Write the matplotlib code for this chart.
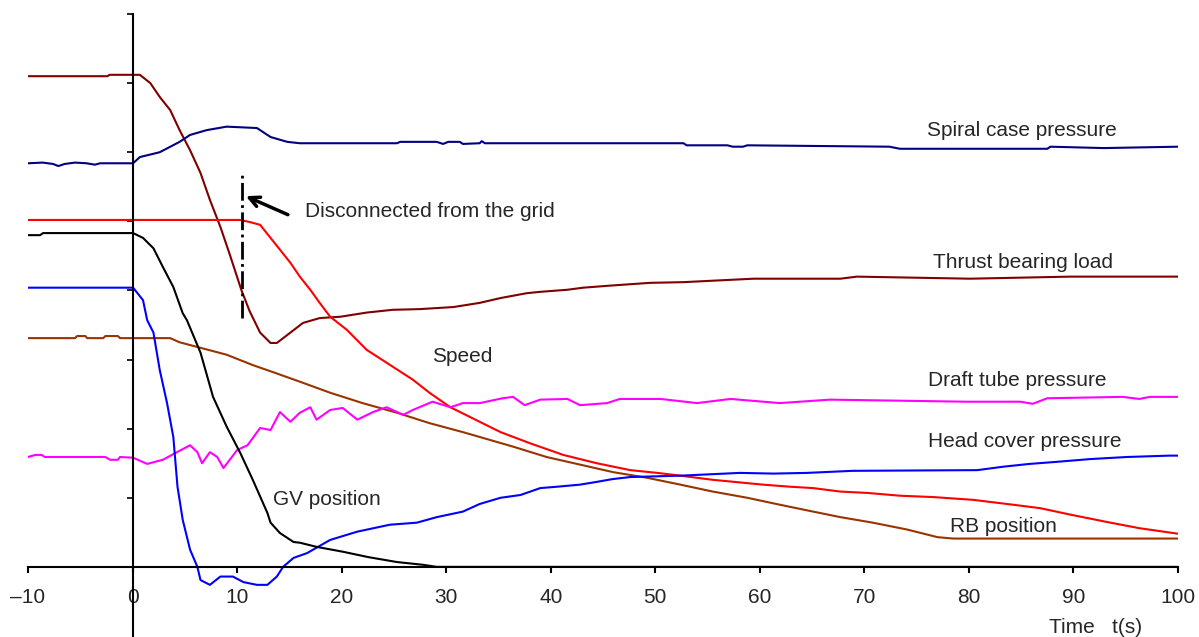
import matplotlib
matplotlib.use("Agg")
import matplotlib.pyplot as plt

plt.rcParams['font.family'] = ['Liberation Sans', 'DejaVu Sans']

# time axis ticks
x_ticks = [-10, 0, 10, 20, 30, 40, 50, 60, 70, 80, 90, 100]
x_tick_labels = ['\u201310', '0', '10', '20', '30', '40', '50', '60', '70', '80', '90', '100']

# Thrust bearing load
tb_t = [-10, -2.4, -2.2, 0.7, 1.7, 2.6, 3.6, 4.5, 5.5, 6.5, 7.4, 8.4, 9.3, 10.4, 11.2, 12.2,
        13.2, 13.8, 15.1, 16.3, 17.9, 19.9, 22.4, 24.9, 27.5, 30.7, 33.2, 35.2, 37.7, 39.0,
        41.6, 43.1, 45.7, 49.5, 52.7, 59.4, 67.7, 69.3, 80.1, 89.7, 100]
tb_v = [7.10, 7.10, 7.12, 7.12, 7.00, 6.80, 6.61, 6.32, 6.03, 5.70, 5.31, 4.92, 4.52, 4.01, 3.70, 3.39,
        3.24, 3.24, 3.39, 3.53, 3.60, 3.62, 3.68, 3.72, 3.73, 3.76, 3.82, 3.89, 3.96, 3.98,
        4.01, 4.04, 4.07, 4.11, 4.12, 4.17, 4.17, 4.20, 4.17, 4.20, 4.20]

# Spiral case pressure
sc_t = [-10, -8.6, -7.6, -7.1, -6.5, -5.5, -4.4, -3.6, -3.1, -0.2, 0.05, 0.7, 2.6, 4.5, 5.5, 7.1,
        9.0, 11.9, 13.2, 14.8, 16.0, 25.3, 25.6, 29.1, 29.7, 30.2, 31.3, 31.6, 33.2, 33.4, 33.7,
        52.7, 53.0, 56.9, 57.4, 58.4, 58.8, 72.4, 73.4, 87.5, 87.8, 92.9, 100]
sc_v = [5.84, 5.85, 5.83, 5.80, 5.83, 5.85, 5.84, 5.82, 5.84, 5.84, 5.84, 5.93, 6.00, 6.15, 6.25, 6.32,
        6.37, 6.35, 6.22, 6.15, 6.13, 6.13, 6.15, 6.15, 6.12, 6.15, 6.15, 6.12, 6.13, 6.16, 6.13,
        6.13, 6.10, 6.10, 6.08, 6.08, 6.10, 6.08, 6.05, 6.05, 6.08, 6.06, 6.08]

# Speed
sp_t = [-10, 10.3, 11.2, 12.2, 13.2, 14.1, 15.1, 16.0, 17.0, 17.9, 18.9, 20.5, 22.4, 26.8, 28.4,
        30.4, 33.2, 35.2, 38.0, 41.2, 44.4, 47.6, 50.2, 52.4, 55.5, 60.3, 62.9, 65.1, 67.7, 70.3,
        73.4, 76.6, 80.4, 84.2, 86.8, 89.9, 93.2, 96.3, 100]
sp_v = [5.02, 5.02, 4.99, 4.95, 4.76, 4.59, 4.40, 4.20, 4.01, 3.82, 3.62, 3.43, 3.14, 2.71, 2.52,
        2.31, 2.10, 1.95, 1.79, 1.62, 1.50, 1.40, 1.36, 1.32, 1.26, 1.19, 1.16, 1.14, 1.09, 1.07,
        1.03, 1.01, 0.97, 0.90, 0.85, 0.75, 0.65, 0.56, 0.48]

# GV position
gv_t = [-10, -8.85, -8.56, 0.05, 1.0, 2.0, 2.9, 3.9, 4.8, 5.2, 6.5, 7.7, 9.0, 10.3, 11.5, 12.9,
        13.2, 14.1, 15.4, 16.0, 17.6, 20.1, 22.6, 25.3, 27.8, 29.1, 100]
gv_v = [4.80, 4.80, 4.83, 4.83, 4.76, 4.61, 4.34, 4.05, 3.67, 3.57, 3.10, 2.46, 2.03, 1.65, 1.26, 0.78,
        0.64, 0.49, 0.36, 0.35, 0.29, 0.22, 0.14, 0.07, 0.03, 0.0, 0.0]

# Head cover pressure
hc_t = [-10, 0.05, 1.0, 1.4, 2.0, 2.6, 3.3, 3.9, 4.3, 4.8, 5.5, 6.2, 6.5, 7.4, 8.4, 9.6, 10.6,
        11.9, 12.9, 13.8, 14.4, 15.4, 16.7, 18.9, 21.5, 24.6, 27.2, 29.1, 31.6, 33.2, 35.2, 37.1,
        39.0, 40.6, 42.8, 44.4, 45.9, 47.6, 52.4, 58.1, 61.3, 64.5, 68.9, 80.8, 83.3, 85.8, 88.4,
        91.6, 95.1, 99.2, 100]
hc_v = [4.04, 4.04, 3.86, 3.57, 3.39, 2.85, 2.37, 1.88, 1.16, 0.68, 0.25, 0.0, -0.19, -0.26, -0.14,
        -0.14, -0.22, -0.26, -0.26, -0.14, 0.0, 0.13, 0.20, 0.39, 0.51, 0.61, 0.64, 0.72, 0.80, 0.91,
        1.00, 1.04, 1.14, 1.16, 1.19, 1.23, 1.27, 1.30, 1.32, 1.36, 1.35, 1.36, 1.39, 1.40, 1.45,
        1.49, 1.52, 1.56, 1.59, 1.61, 1.61]

# RB position
rb_t = [-10, -5.5, -5.3, -4.5, -4.35, -2.8, -2.6, -1.4, -1.2, 3.6, 4.5, 6.5, 9.0, 11.5, 13.4, 16.0,
        18.9, 22.0, 25.3, 28.4, 31.6, 33.2, 36.4, 39.6, 42.8, 46.0, 49.2, 52.4, 55.5, 58.8, 61.9,
        65.1, 67.7, 70.8, 74.1, 77.0, 78.5, 100]
rb_v = [3.31, 3.31, 3.34, 3.34, 3.31, 3.31, 3.34, 3.34, 3.31, 3.31, 3.25, 3.17, 3.07, 2.92, 2.82,
        2.68, 2.52, 2.37, 2.23, 2.08, 1.95, 1.88, 1.74, 1.59, 1.48, 1.37, 1.29, 1.19, 1.09, 1.00,
        0.90, 0.80, 0.72, 0.64, 0.54, 0.43, 0.41, 0.41]

# Draft tube pressure
dt_t = [-10, -9.3, -8.7, -8.4, -2.6, -2.15, -1.4, -1.2, 0.05, 1.4, 2.9, 4.5, 5.5, 6.2, 6.65, 7.4,
        8.1, 8.7, 9.3, 10.0, 11.0, 12.2, 13.2, 14.1, 15.1, 16.0, 17.0, 17.6, 18.9, 20.1, 21.5,
        23.0, 24.3, 25.9, 26.8, 28.7, 30.4, 31.6, 33.2, 35.4, 36.4, 37.5, 39.0, 41.6, 42.8, 45.4,
        46.6, 50.5, 54.0, 57.2, 61.9, 66.7, 79.8, 84.9, 86.1, 87.5, 94.7, 96.3, 97.3, 100]
dt_v = [1.59, 1.62, 1.62, 1.59, 1.59, 1.55, 1.55, 1.59, 1.58, 1.49, 1.55, 1.68, 1.76, 1.66, 1.50, 1.66,
        1.59, 1.43, 1.55, 1.69, 1.76, 2.01, 1.98, 2.24, 2.10, 2.23, 2.31, 2.13, 2.27, 2.30, 2.13,
        2.24, 2.31, 2.20, 2.27, 2.39, 2.31, 2.37, 2.37, 2.44, 2.46, 2.34, 2.42, 2.43, 2.34, 2.37,
        2.43, 2.43, 2.37, 2.43, 2.37, 2.42, 2.39, 2.39, 2.36, 2.44, 2.46, 2.43, 2.46, 2.46]

fig = plt.figure(figsize=(11.99, 6.37), dpi=100)
ax = fig.add_axes([28 / 1199, 1 / 637, 1150 / 1199, 622 / 637])

lw = 1.5
ax.plot(tb_t, tb_v, color='#800000', lw=lw)
ax.plot(sc_t, sc_v, color='#000080', lw=lw)
ax.plot(sp_t, sp_v, color='#ff0000', lw=lw)
ax.plot(rb_t, rb_v, color='#993300', lw=lw)
ax.plot(dt_t, dt_v, color='#ff00ff', lw=lw)
ax.plot(hc_t, hc_v, color='#0000ff', lw=lw)
ax.plot(gv_t, gv_v, color='black', lw=lw)

# grid disconnection marker
ax.plot([10.45, 10.45], [3.60, 5.71], color='black', lw=2, linestyle='-.')
ax.annotate('', xy=(10.6, 5.38), xytext=(15.1, 5.08),
            arrowprops=dict(arrowstyle='->', lw=2.5, color='black', mutation_scale=18))

txt = dict(fontsize=15, color='#262626', va='center', ha='left')
ax.text(16.5, 5.14, 'Disconnected from the grid', **txt)
ax.text(76.0, 6.31, 'Spiral case pressure', **txt)
ax.text(76.6, 4.40, 'Thrust bearing load', **txt)
ax.text(28.65, 3.05, 'Speed', **txt)
ax.text(76.1, 2.69, 'Draft tube pressure', **txt)
ax.text(76.1, 1.81, 'Head cover pressure', **txt)
ax.text(13.4, 0.97, 'GV position', **txt)
ax.text(78.2, 0.58, 'RB position', **txt)
ax.text(87.7, -0.87, 'Time   t(s)', **txt)

ax.set_xlim(-10, 100)
ax.set_ylim(-1, 8)
ax.spines['left'].set_position(('data', 0))
ax.spines['bottom'].set_position(('data', 0))
ax.spines['top'].set_visible(False)
ax.spines['right'].set_visible(False)
ax.spines['left'].set_linewidth(1.5)
ax.spines['bottom'].set_linewidth(1.5)
ax.set_xticks(x_ticks)
ax.set_xticklabels(x_tick_labels)
ax.set_yticks([1, 2, 3, 4, 5, 6, 7, 8])
ax.set_yticklabels([])
ax.tick_params(axis='x', direction='out', length=4, width=1.5, pad=11,
               labelsize=15, labelcolor='#262626')
ax.tick_params(axis='y', direction='out', length=4, width=1.2)
ax.patch.set_visible(False)

fig.savefig('out.png', dpi=100)
